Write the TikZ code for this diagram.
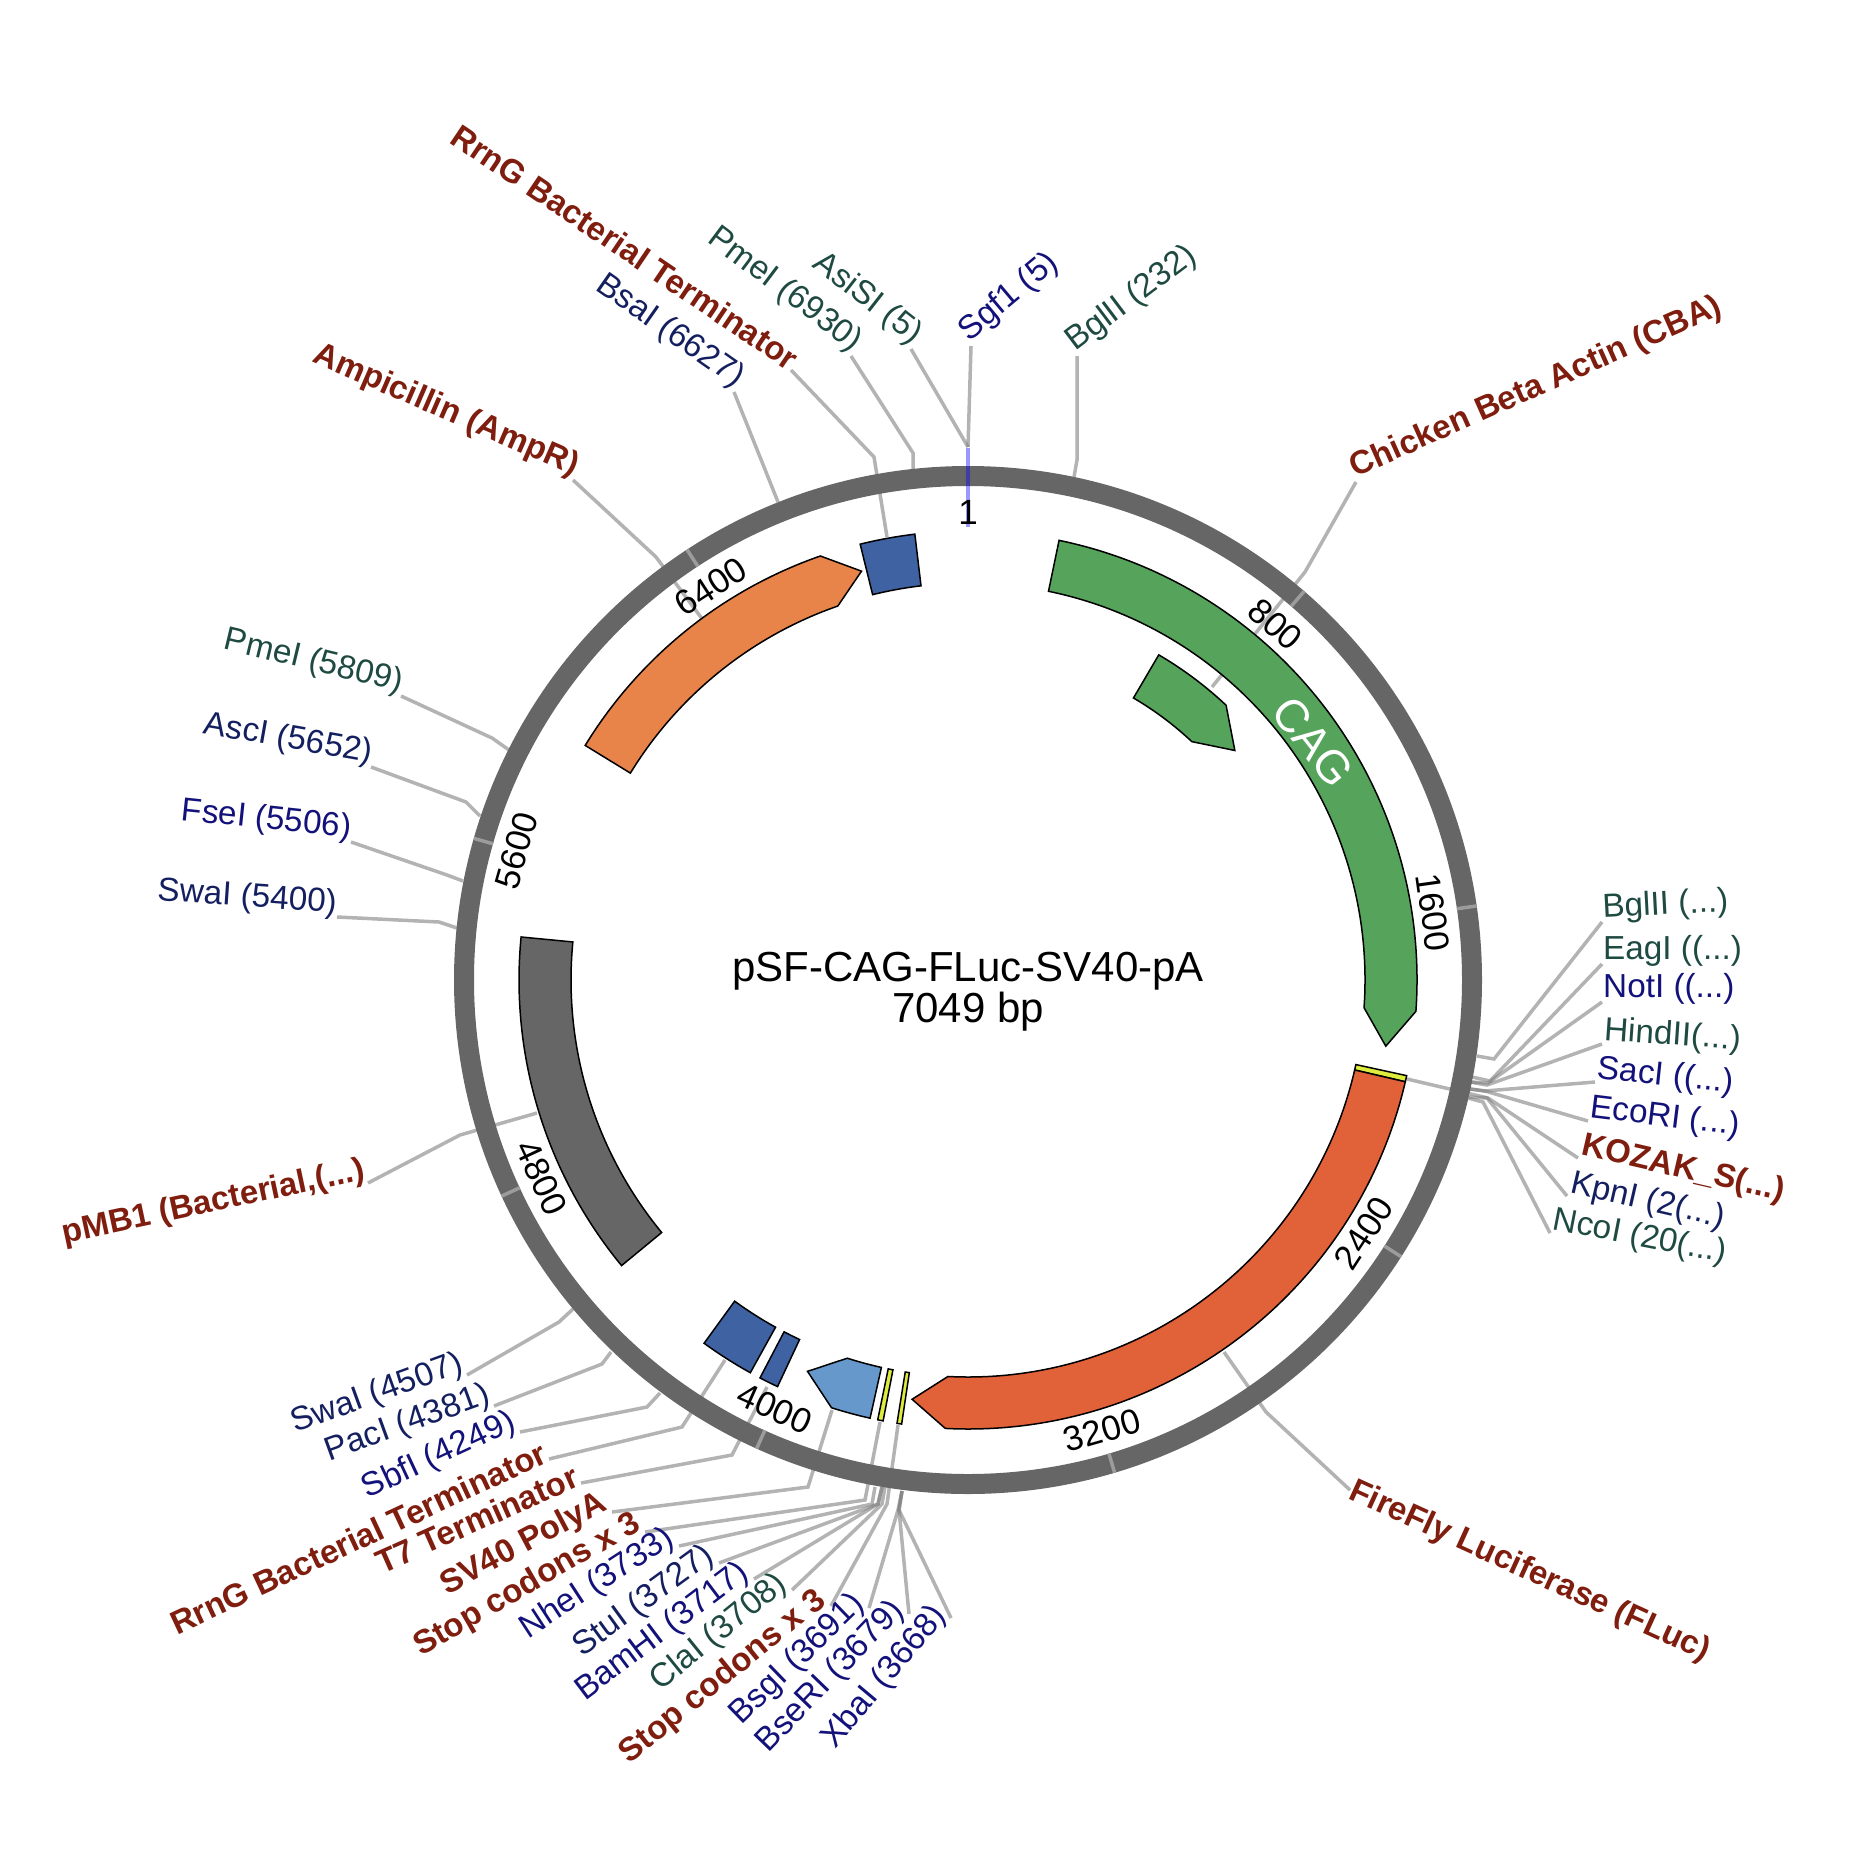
\documentclass[tikz,border=0pt]{standalone}
\usepackage{fontspec}
\setmainfont{Liberation Sans}
\usepackage{tikz}
\definecolor{ringgray}{RGB}{102,102,102}
\definecolor{leadgray}{RGB}{128,128,128}
\definecolor{featred}{RGB}{127,29,14}
\definecolor{sitegreen}{RGB}{30,74,66}
\definecolor{sitenavy}{RGB}{20,31,96}
\definecolor{siteblue}{RGB}{19,17,122}
\definecolor{cagegreen}{RGB}{86,163,92}
\definecolor{flucred}{RGB}{225,97,57}
\definecolor{amporange}{RGB}{232,131,74}
\definecolor{termblue}{RGB}{63,98,163}
\definecolor{polyblue}{RGB}{102,152,203}
\definecolor{stopyellow}{RGB}{222,236,62}
\tikzset{
    leader/.style={draw=leadgray, draw opacity=0.6, line width=3.5pt},
    sitelbl/.style={font=\fontsize{33.3}{35}\selectfont, inner xsep=1pt, inner ysep=-3pt},
    featlbl/.style={font=\fontsize{33}{35}\selectfont\bfseries, featred, inner xsep=1pt, inner ysep=-3pt},
    ticklbl/.style={font=\fontsize{35}{37}\selectfont, inner sep=0pt},
    featshape/.style={draw=black, line width=1.5pt, line join=miter}
}

\begin{document}
\begin{tikzpicture}[x=1pt,y=-1pt]
    \useasboundingbox (0,0) rectangle (1860,1852);

    % --- leaders of the right-hand sites ---
    \node[sitelbl, sitegreen, anchor=south west, rotate=3] (bglr) at (1602,922) {BglII (...)};
    \draw[leader] (bglr.south west) -- (1494,1059) -- (1477,1056);
    \node[sitelbl, sitegreen, anchor=south west] (eag) at (1602,964) {EagI ((...)};
    \draw[leader] (eag.south west) -- (1490,1081) -- (1472,1077);
    \node[sitelbl, siteblue, anchor=south west] (not) at (1602,1002) {NotI ((...)};
    \draw[leader] (not.south west) -- (1488,1083) -- (1471,1082);
    \node[sitelbl, sitegreen, anchor=south west, rotate=-4] (hind) at (1602,1044) {HindII(...)};
    \draw[leader] (hind.south west) -- (1487,1085) -- (1470,1082);
    \node[sitelbl, siteblue, anchor=south west, rotate=-6] (sac) at (1595,1082) {SacI ((...)};
    \draw[leader] (sac.south west) -- (1485,1091) -- (1470,1089);
    \node[sitelbl, siteblue, anchor=south west, rotate=-7] (eco) at (1588,1121) {EcoRI (...)};
    \draw[leader] (eco.south west) -- (1485,1091) -- (1470,1089);
    \node[featlbl, anchor=south west, rotate=-13] (koz) at (1578,1158) {KOZAK\_S(...)};
    \draw[leader] (koz.south west) -- (1488,1098) -- (1407,1079);
    \node[sitelbl, sitenavy, anchor=south west, rotate=-13] (kpn) at (1567,1196) {KpnI (2(...)};
    \draw[leader] (kpn.south west) -- (1487,1098) -- (1469,1097);
    \node[sitelbl, sitegreen, anchor=south west, rotate=-11] (nco) at (1550,1233) {NcoI (20(...)};
    \draw[leader] (nco.south west) -- (1483,1102) -- (1468,1098);

    % --- leaders along the bottom ---
    \node[sitelbl, sitenavy, anchor=south east, rotate=20] (swab) at (467,1375) {SwaI (4507)};
    \draw[leader] (swab.south east) -- (559,1322) -- (573,1309);
    \node[sitelbl, sitenavy, anchor=south east, rotate=20] (pac) at (494,1406) {PacI (4381)};
    \draw[leader] (pac.south east) -- (602,1364) -- (611,1352);
    \node[sitelbl, siteblue, anchor=south east, rotate=25] (sbf) at (520,1432) {SbfI (4249)};
    \draw[leader] (sbf.south east) -- (647,1407) -- (660,1393);
    \node[featlbl, anchor=south east, rotate=25] (rrnb) at (549,1459) {RrnG Bacterial Terminator};
    \draw[leader] (rrnb.south east) -- (682,1427) -- (725,1360);
    \node[featlbl, anchor=south east, rotate=24] (tseven) at (581,1483) {T7 Terminator};
    \draw[leader] (tseven.south east) -- (732,1455) -- (767,1387);
    \node[featlbl, anchor=south east, rotate=28] (polya) at (612,1512) {SV40 PolyA};
    \draw[leader] (polya.south east) -- (808,1487) -- (832,1410);
    \node[featlbl, anchor=south east, rotate=30] (stopa) at (645,1532) {Stop codons x 3};
    \draw[leader] (stopa.south east) -- (865,1500) -- (880,1422);
    \node[sitelbl, siteblue, anchor=south east, rotate=33] (nhe) at (679,1546) {NheI (3733)};
    \draw[leader] (nhe.south east) -- (872,1504) -- (875,1487);
    \node[sitelbl, sitenavy, anchor=south east, rotate=36] (stu) at (719,1563) {StuI (3727)};
    \draw[leader] (stu.south east) -- (878,1504) -- (882,1487);
    \node[sitelbl, siteblue, anchor=south east, rotate=37] (bam) at (754,1579) {BamHI (3717)};
    \draw[leader] (bam.south east) -- (878,1504) -- (882,1487);
    \node[sitelbl, sitegreen, anchor=south east, rotate=39] (cla) at (792,1590) {ClaI (3708)};
    \draw[leader] (cla.south east) -- (882,1504) -- (885,1487);
    \node[featlbl, anchor=south east, rotate=39] (stopb) at (831,1606) {Stop codons x 3};
    \draw[leader] (stopb.south east) -- (887,1504) -- (898,1425);
    \node[sitelbl, siteblue, anchor=south east, rotate=44] (bsg) at (869,1608) {BsgI (3691)};
    \draw[leader] (bsg.south east) -- (898,1510) -- (902,1491);
    \node[sitelbl, siteblue, anchor=south east, rotate=46] (bse) at (909,1614) {BseRI (3679)};
    \draw[leader] (bse.south east) -- (899,1510) -- (902,1491);
    \node[sitelbl, siteblue, anchor=south east, rotate=50] (xba) at (951,1618) {XbaI (3668)};
    \draw[leader] (xba.south east) -- (899,1510) -- (902,1491);

    % --- leaders on the left ---
    \node[featlbl, anchor=south east, rotate=12] (pmb) at (368,1183) {pMB1 (Bacterial,(...)};
    \draw[leader] (pmb.south east) -- (460,1135) -- (537,1113);
    \node[sitelbl, sitenavy, anchor=south east, rotate=-4] (swal) at (337,917) {SwaI (5400)};
    \draw[leader] (swal.south east) -- (439,922) -- (457,928);
    \node[sitelbl, siteblue, anchor=south east, rotate=-6] (fse) at (351,842) {FseI (5506)};
    \draw[leader] (fse.south east) -- (447,875) -- (463,881);
    \node[sitelbl, sitenavy, anchor=south east, rotate=-10] (asc) at (371,767) {AscI (5652)};
    \draw[leader] (asc.south east) -- (466,802) -- (480,816);
    \node[sitelbl, sitegreen, anchor=south east, rotate=-13.5] (pmel) at (401,696) {PmeI (5809)};
    \draw[leader] (pmel.south east) -- (492,738) -- (509,750);
    \node[featlbl, anchor=south east, rotate=-23.5] (amp) at (573,480) {Ampicillin (AmpR)};
    \draw[leader] (amp.south east) -- (656,557) -- (703,620);

    % --- leaders on top ---
    \node[sitelbl, sitenavy, anchor=south east, rotate=-35] (bsa) at (734,392) {BsaI (6627)};
    \draw[leader] (bsa.south east) -- (778,502);
    \node[featlbl, anchor=south east, rotate=-34] (rrna) at (791,370) {RrnG Bacterial Terminator};
    \draw[leader] (rrna.south east) -- (874,457) -- (887,537);
    \node[sitelbl, sitegreen, anchor=south east, rotate=-37] (pmet) at (851,356) {PmeI (6930)};
    \draw[leader] (pmet.south east) -- (913,453) -- (913,470);
    \node[sitelbl, sitegreen, anchor=south east, rotate=-38] (asi) at (911,349) {AsiSI (5)};
    \draw[leader] (asi.south east) -- (968,447);
    \node[sitelbl, siteblue, anchor=south west, rotate=40] (sgf) at (971,346) {Sgf1 (5)};
    \draw[leader] (sgf.south west) -- (968,447);
    \node[sitelbl, sitegreen, anchor=south west, rotate=37] (bglt) at (1077,356) {BglII (232)};
    \draw[leader] (bglt.south west) -- (1077,460) -- (1074,477);
    \node[featlbl, anchor=south west, rotate=24] (cba) at (1356,482) {Chicken Beta Actin (CBA)};
    \draw[leader] (cba.south west) -- (1305,572) -- (1212,687);
    \node[featlbl, anchor=west, rotate=-24.5] (fluc) at (1350,1490) {FireFly Luciferase (FLuc)};
    \draw[leader] (fluc.west) -- (1266,1412) -- (1224,1352);

    \begin{scope}[shift={(968,980)},y=1pt]
        % Backbone ring
        \draw[line width=20pt, ringgray] (0,0) circle (504);

        % Scale marks
        \foreach \pos/\txt/\rot in {800/800/-41,1600/1600/-82,2400/2400/57,3200/3200/16,
            4000/4000/-24,4800/4800/-65,5600/5600/74,6400/6400/33}{
            \draw[line width=3.5pt, white!35!ringgray] ({90-\pos/7049*360}:494) -- ({90-\pos/7049*360}:514);
            \node[ticklbl, rotate=\rot] (tick\pos) at ({90-\pos/7049*360}:470) {\txt};
        }

        % Plain boxes
        \foreach \col/\st/\en in {ringgray/230.5/275.5,termblue/209/216,termblue/205.1/207.6,
            termblue/346.1/353.2,stopyellow/188.5/189.1,stopyellow/190.9/191.6,stopyellow/102.3/103.1}{
            \draw[featshape, fill=\col] ({90-\st}:449) arc[start angle={90-\st}, end angle={90-\en}, radius=449]
                -- ({90-\en}:397) arc[start angle={90-\en}, end angle={90-\st}, radius=397] -- cycle;
        }

        % Arrow shaped features
        \foreach \col/\ri/\ro/\st/\en/\tp in {cagegreen/397/449/11.7/94/99,cagegreen/327/377/30.4/43.2/49.3,
            flucred/397/449/103.1/182.9/187.6,polyblue/397/449/192.6/197.7/202.3,amporange/396/449/301.5/340.8/345.4}{
            \draw[featshape, fill=\col] ({90-\st}:\ro) arc[start angle={90-\st}, end angle={90-\en}, radius=\ro]
                -- ({90-\tp}:{(\ri+\ro)/2}) -- ({90-\en}:\ri) arc[start angle={90-\en}, end angle={90-\st}, radius=\ri] -- cycle;
        }

        % Site at position one
        \draw[line width=4pt, blue, opacity=0.4] (0,532) -- (0,453);
        \node[ticklbl] (tickone) at (0,468) {1};
    \end{scope}

    \node[font=\fontsize{46}{48}\selectfont, white, rotate=-52] (cag) at (1313,742) {CAG};
    \node[font=\fontsize{42}{41}\selectfont, align=center] (title) at (968,992) {pSF-CAG-FLuc-SV40-pA\\7049 bp};
\end{tikzpicture}
\end{document}
